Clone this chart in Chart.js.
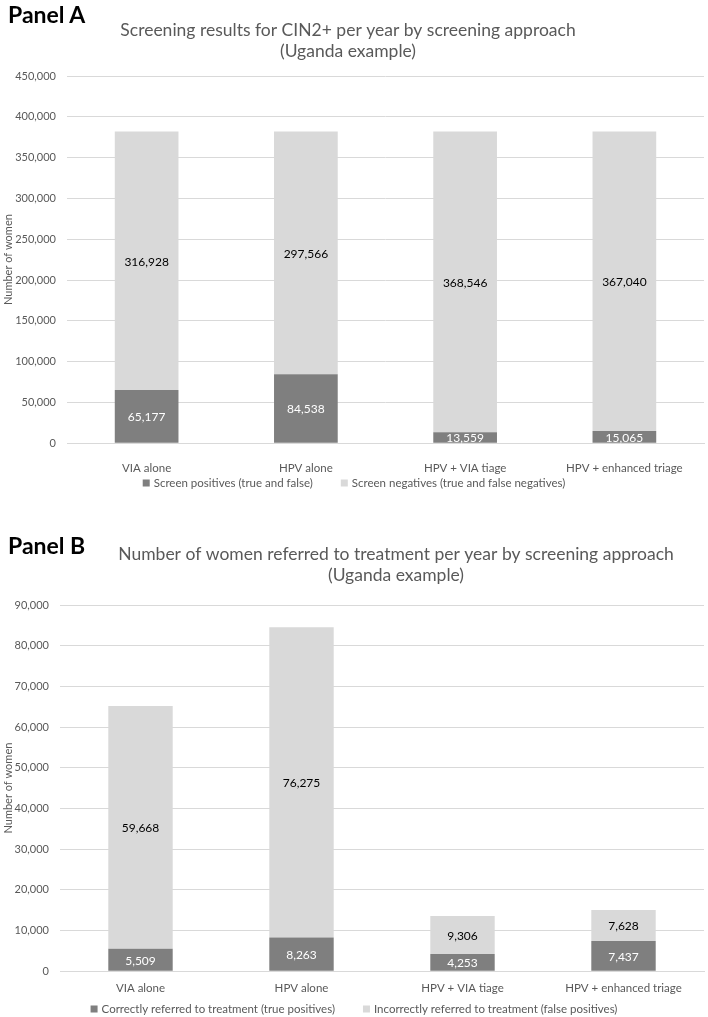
<!DOCTYPE html>
<html>
<head>
<meta charset="utf-8">
<script src="https://cdn.jsdelivr.net/npm/chart.js@4.4.1/dist/chart.umd.min.js"></script>
<style>
  body { margin: 0; background: #fff; font-family: Lato, "Liberation Sans", sans-serif; }
  .panel { position: absolute; left: 0; width: 708px; }
  .tag { position: absolute; left: 8px; font-weight: bold; font-size: 23px; color: #000; }
</style>
</head>
<body>
<div class="panel" style="top:0;height:500px"><canvas id="chartA"></canvas></div>
<div class="tag" style="top:0px">Panel A</div>
<div class="panel" style="top:522px;height:495px"><canvas id="chartB"></canvas></div>
<div class="tag" style="top:531px">Panel B</div>
<script>
const approaches = ['VIA alone', 'HPV alone', 'HPV + VIA tiage', 'HPV + enhanced triage'];

// Panel A
const screenPositives = [65177, 84538, 13559, 15065];
const screenNegatives = [316928, 297566, 368546, 367040];

// Panel B
const correctlyReferred = [5509, 8263, 4253, 7437];
const incorrectlyReferred = [59668, 76275, 9306, 7628];

const darkGrey = '#7f7f7f';
const lightGrey = '#d9d9d9';
const textGrey = '#595959';
const FONT = 'Lato, "Liberation Sans", sans-serif';

// numbers on each segment
const valueLabels = {
  id: 'valueLabels',
  afterDatasetsDraw(chart) {
    const ctx = chart.ctx;
    ctx.save();
    ctx.font = '12px ' + FONT;
    ctx.textAlign = 'center';
    ctx.textBaseline = 'middle';
    chart.data.datasets.forEach((ds, i) => {
      chart.getDatasetMeta(i).data.forEach((bar, j) => {
        const p = bar.getCenterPoint();
        ctx.fillStyle = ds.labelColor;
        ctx.fillText(ds.data[j].toLocaleString('en-US'), p.x, p.y + 1);
      });
    });
    ctx.restore();
  }
};

// shift the title sideways like in the original figure
const titleShift = {
  id: 'titleShift',
  afterLayout(chart, args, opts) {
    if (chart.titleBlock && opts.dx) {
      chart.titleBlock.left += opts.dx;
      chart.titleBlock.right += opts.dx;
    }
  }
};

// legend with small squares and wide spacing between items
const bottomLegend = {
  id: 'bottomLegend',
  afterDraw(chart, args, opts) {
    const ctx = chart.ctx;
    const box = 7, gap = 4, spacing = 28;
    ctx.save();
    ctx.font = '11.5px ' + FONT;
    ctx.textBaseline = 'middle';
    const items = chart.data.datasets.map(ds => ({
      text: ds.label, color: ds.backgroundColor, w: ctx.measureText(ds.label).width
    }));
    const total = items.reduce((s, it) => s + box + gap + it.w, 0) + spacing * (items.length - 1);
    let x = (chart.width - total) / 2;
    items.forEach(it => {
      ctx.fillStyle = it.color;
      ctx.fillRect(x, opts.y - box / 2, box, box);
      x += box + gap;
      ctx.fillStyle = textGrey;
      ctx.fillText(it.text, x, opts.y + 0.5);
      x += it.w + spacing;
    });
    ctx.restore();
  }
};

function makeChart(id, cfg) {
  return new Chart(document.getElementById(id), {
    type: 'bar',
    data: {
      labels: approaches,
      datasets: [
        { label: cfg.names[0], data: cfg.first, backgroundColor: darkGrey, labelColor: '#fff' },
        { label: cfg.names[1], data: cfg.second, backgroundColor: lightGrey, labelColor: '#000' }
      ]
    },
    options: {
      responsive: true,
      maintainAspectRatio: false,
      animation: false,
      layout: { padding: { left: 0, right: 4, bottom: cfg.bottom } },
      datasets: { bar: { categoryPercentage: 1, barPercentage: 0.4 } },
      plugins: {
        title: {
          display: true,
          text: cfg.title,
          color: textGrey,
          font: { family: FONT, size: 17.5, weight: 'normal', lineHeight: 1.2 },
          padding: cfg.titlePad
        },
        titleShift: { dx: cfg.titleDx },
        bottomLegend: { y: cfg.legendY },
        legend: { display: false },
        tooltip: { enabled: false }
      },
      scales: {
        x: {
          stacked: true,
          grid: { display: false },
          border: { color: lightGrey },
          ticks: { color: textGrey, padding: cfg.xPad, font: { size: 11.5, family: FONT } }
        },
        y: {
          stacked: true,
          min: 0, max: cfg.max,
          afterFit: s => { s.width = cfg.yWidth; },
          grid: { color: lightGrey, drawTicks: false },
          border: { display: false },
          ticks: {
            stepSize: cfg.step, padding: 11, color: textGrey,
            font: { size: 11, family: FONT },
            callback: v => v.toLocaleString('en-US')
          },
          title: {
            display: true, text: 'Number of women', color: textGrey, padding: 2,
            font: { size: 11, family: FONT }
          }
        }
      }
    },
    plugins: [valueLabels, titleShift, bottomLegend]
  });
}

makeChart('chartA', {
  title: ['Screening results for CIN2+ per year by screening approach', '(Uganda example)'],
  names: ['Screen positives (true and false)', 'Screen negatives (true and false negatives)'],
  first: screenPositives, second: screenNegatives, max: 450000, step: 50000,
  titlePad: { top: 20, bottom: 14 }, titleDx: -4,
  yWidth: 67, xPad: 10, bottom: 15, legendY: 483
});

makeChart('chartB', {
  title: ['Number of women referred to treatment per year by screening approach', '(Uganda example)'],
  names: ['Correctly referred to treatment (true positives)', 'Incorrectly referred to treatment (false positives)'],
  first: correctlyReferred, second: incorrectlyReferred, max: 90000, step: 10000,
  titlePad: { top: 22, bottom: 19 }, titleDx: 44,
  yWidth: 60, xPad: 2, bottom: 20, legendY: 487
});
</script>
</body>
</html>
